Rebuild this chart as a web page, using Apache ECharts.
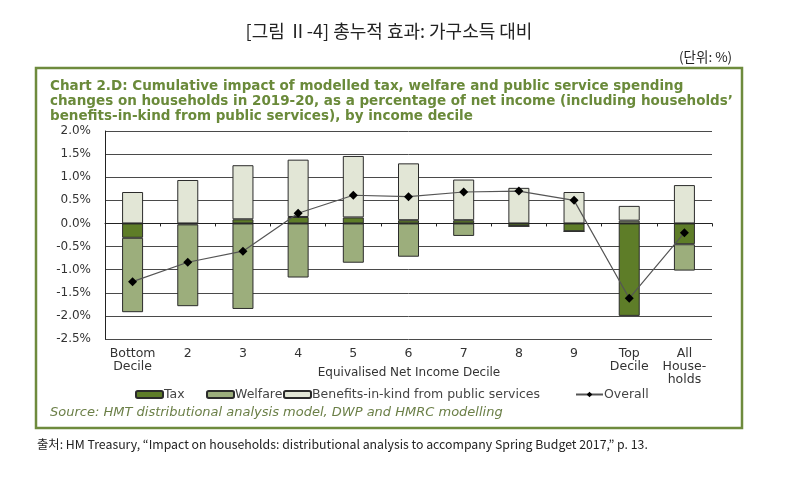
<!DOCTYPE html>
<html><head><meta charset="utf-8">
<script src="https://cdn.jsdelivr.net/npm/echarts@6/dist/echarts.min.js"></script>
<style>html,body{margin:0;padding:0;background:#fff}#c{width:800px;height:483px}</style>
</head><body><div id="c"></div>
<script>
const categories = ['Bottom\nDecile','2','3','4','5','6','7','8','9','Top\nDecile','All\nHouse-\nholds'];
const taxValues = [-0.31, -0.02, 0.09, 0.14, 0.13, 0.07, 0.07, -0.06, -0.17, -2.00, -0.45];
const welfareValues = [-1.61, -1.77, -1.85, -1.17, -0.85, -0.72, -0.27, 0.00, 0.00, 0.06, -0.57];
const bikValues = [0.68, 0.94, 1.17, 1.24, 1.33, 1.23, 0.88, 0.77, 0.68, 0.32, 0.83];
const overallValues = [-1.26, -0.84, -0.60, 0.22, 0.61, 0.58, 0.68, 0.70, 0.50, -1.62, -0.20];
const yTicks = {min: -2.5, max: 2.0, interval: 0.5};

const FONT = '"DejaVu Sans", sans-serif';
const KFONT = '"Noto Sans CJK KR", sans-serif';
const chart = echarts.init(document.getElementById('c'), null, {renderer: 'canvas'});
const barBase = {type: 'bar', stack: 'total', barWidth: 21, xAxisIndex: 0, yAxisIndex: 0};
chart.setOption({
  animation: false,
  backgroundColor: '#fff',
  grid: {left: 105, right: 88, top: 131, bottom: 144, containLabel: false},
  title: [
    {text: '[그림 Ⅱ-4] 총누적 효과: 가구소득 대비', left: 389, top: 22, textAlign: 'center', padding: 0,
     textStyle: {fontFamily: KFONT, fontSize: 18, fontWeight: 'normal', color: '#222'}},
    {text: '(단위: %)', left: 679, top: 50, padding: 0,
     textStyle: {fontFamily: KFONT, fontSize: 13.5, fontWeight: 'normal', color: '#222'}},
    {text: 'Chart 2.D: Cumulative impact of modelled tax, welfare and public service spending\nchanges on households in 2019-20, as a percentage of net income (including households’\nbenefits-in-kind from public services), by income decile',
     left: 50, top: 79, padding: 0,
     textStyle: {fontFamily: FONT, fontSize: 13.5, fontWeight: 'bold', color: '#6a8a3a', lineHeight: 15}},
    {text: 'Equivalised Net Income Decile', left: 409, top: 367, textAlign: 'center', padding: 0,
     textStyle: {fontFamily: FONT, fontSize: 12, fontWeight: 'normal', color: '#333'}},
    {text: 'Source: HMT distributional analysis model, DWP and HMRC modelling', left: 50, top: 406, padding: 0,
     textStyle: {fontFamily: FONT, fontSize: 13, fontStyle: 'italic', fontWeight: 'normal', color: '#6b7f47'}},
    {text: '출처: HM Treasury, “Impact on households: distributional analysis to accompany Spring Budget 2017,” p. 13.',
     left: 37, top: 438, padding: 0,
     textStyle: {fontFamily: KFONT, fontSize: 12.3, fontWeight: 'normal', color: '#222'}}
  ],
  graphic: [
    {type: 'rect', shape: {x: 36, y: 68, width: 706, height: 360}, style: {fill: 'none', stroke: '#6e8b3d', lineWidth: 2.5}, z: 100}
  ],
  legend: [
    {data: ['Tax'], left: 135, top: 388},
    {data: ['Welfare'], left: 206, top: 388},
    {data: ['Benefits-in-kind from public services'], left: 283, top: 388},
    {data: ['Overall'], left: 575, top: 388}
  ].map(l => Object.assign(l, {itemWidth: 27, itemHeight: 7, itemGap: 0, padding: 0,
     textStyle: {fontFamily: FONT, fontSize: 12.5, color: '#444', padding: [0, 0, 0, -4]}})),
  xAxis: [
    {type: 'category', data: categories, position: 'bottom',
     axisLine: {onZero: true, lineStyle: {color: '#222', width: 1}},
     axisTick: {show: true, inside: false, length: 3, alignWithLabel: false, lineStyle: {color: '#222'}},
     axisLabel: {show: false}, splitLine: {show: false}},
    {type: 'category', data: categories, position: 'bottom', gridIndex: 0,
     axisLine: {show: false, onZero: false}, axisTick: {show: false},
     axisLabel: {show: true, margin: 8, fontFamily: FONT, fontSize: 12.5, color: '#333', lineHeight: 13, interval: 0}}
  ],
  yAxis: {type: 'value', min: yTicks.min, max: yTicks.max, interval: yTicks.interval,
    axisLine: {show: true, lineStyle: {color: '#222', width: 1}},
    axisTick: {show: false},
    axisLabel: {margin: 14, fontFamily: FONT, fontSize: 12, color: '#333', formatter: v => v.toFixed(1) + '%'},
    splitLine: {show: true, lineStyle: {color: '#4a4a4a', width: 1}}},
  series: [
    Object.assign({}, barBase, {name: 'Tax', data: taxValues,
      itemStyle: {color: '#5e7d28', borderColor: '#2b2b2b', borderWidth: 1}}),
    Object.assign({}, barBase, {name: 'Welfare', data: welfareValues,
      itemStyle: {color: '#9cae7c', borderColor: '#2b2b2b', borderWidth: 1}}),
    Object.assign({}, barBase, {name: 'Benefits-in-kind from public services', data: bikValues,
      itemStyle: {color: '#e2e6d6', borderColor: '#2b2b2b', borderWidth: 1}}),
    {type: 'line', name: 'Overall', data: overallValues, xAxisIndex: 0, yAxisIndex: 0,
      symbol: 'diamond', symbolSize: 9, z: 10,
      lineStyle: {color: '#555', width: 1.2}, itemStyle: {color: '#000'}}
  ]
});
</script></body></html>
